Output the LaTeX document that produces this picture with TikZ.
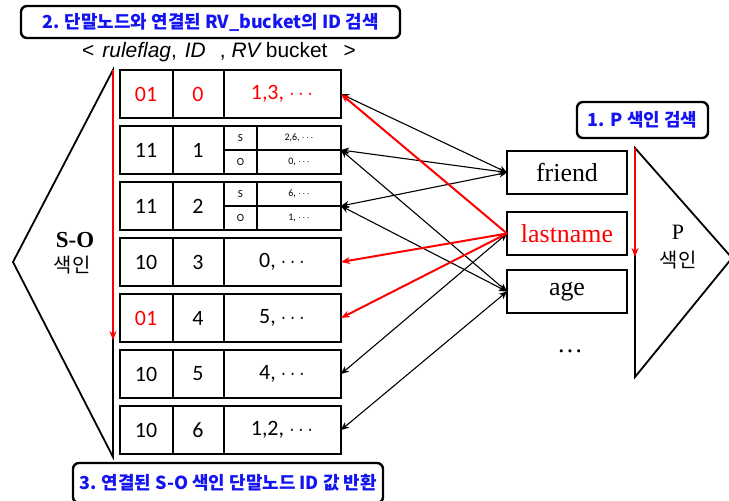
\documentclass[tikz,border=0pt]{standalone}
\usepackage{fontspec}
\setmainfont{Liberation Serif}
\newfontfamily\kr{Noto Sans CJK KR}
\newfontfamily\numf{Carlito}
\newfontfamily\arialf{Liberation Sans}
\usetikzlibrary{arrows.meta}
\definecolor{lblblue}{RGB}{20,20,240}
\definecolor{myred}{RGB}{255,0,0}
\newcommand{\dts}{$\cdots$}
\begin{document}
\begin{tikzpicture}[x=1bp,y=-1bp,
 rowbox/.style={draw,line width=1.6bp,minimum width=221bp,minimum height=48bp,inner sep=0pt,outer sep=0pt},
 pbox/.style={draw,line width=1.8bp,minimum width=120bp,minimum height=43bp,inner sep=0pt,outer sep=0pt,font=\fontsize{26}{28}\selectfont},
 lblbox/.style={draw,line width=2.4bp,rounded corners=6bp,inner sep=0pt,text=lblblue,font=\kr\bfseries\fontsize{18}{20}\selectfont},
 num/.style={font=\numf\fontsize{22}{24}\selectfont},
 smf/.style={font=\numf\fontsize{11}{12}\selectfont},
 smv/.style={font=\numf\fontsize{10}{11}\selectfont},
 bar/.style={line width=1.4bp},
 tri/.style={line width=1.8bp},
 link/.style={line width=1.1bp,{Stealth[length=8bp,width=7bp]}-{Stealth[length=8bp,width=7bp]}},
 redlink/.style={line width=2bp,myred,-{Stealth[length=9bp,width=7bp]}},
 redarrow/.style={line width=2bp,myred,-{Stealth[length=9bp,width=7bp]}}]
\useasboundingbox (0,0) rectangle (729,501);

% label boxes
\node[lblbox,minimum width=379bp,minimum height=32bp] (b2) at (210.5,22) {2. 단말노드와 연결된 RV\_bucket의 ID 검색};
\node[lblbox,minimum width=131bp,minimum height=36bp] (b1) at (642.5,120) {1. P 색인 검색};
\node[lblbox,minimum width=310bp,minimum height=40bp] (b3) at (228,483) {3. 연결된 S-O 색인 단말노드 ID 값 반환};

% header text
\node[anchor=base west,inner sep=0pt,font=\arialf\fontsize{21}{23}\selectfont] (hdr) at (82,58)
 {<\hspace{8bp}\textit{ruleflag},\hspace{8bp}\textit{ID}\hspace{14bp},\hspace{6bp}\textit{RV}\hspace{4bp}bucket\hspace{16bp}>};

% S-O triangle
\coordinate (sotop) at (113,70);
\coordinate (soapex) at (13,262);
\coordinate (sobot) at (113,457);
\coordinate (sored) at (113,340);
\draw[tri] (sotop) -- (soapex) -- (sobot) -- cycle;
\draw[redarrow] (sotop) -- (sored);
\node[font=\bfseries\fontsize{23}{25}\selectfont,inner sep=0pt] (so1) at (75,240) {S-O};
\node[font=\kr\fontsize{20}{22}\selectfont,inner sep=0pt] (so2) at (72,265) {색인};

% table rows
\foreach \i in {0,...,6}{
  \pgfmathsetmacro{\yy}{94+56*\i}
  \node[rowbox] (r\i) at (230.5,\yy) {};
  \draw[bar] ([xshift=53bp]r\i.north west) -- ([xshift=53bp]r\i.south west);
  \draw[bar] ([xshift=104bp]r\i.north west) -- ([xshift=104bp]r\i.south west);
}
% row contents
\node[num,text=myred] (c00) at ([xshift=26bp]r0.west) {01};
\node[num,text=myred] (c01) at ([xshift=78bp]r0.west) {0};
\node[num,text=myred] (c02) at ([xshift=162bp]r0.west) {1,3, \dts};

\node[num] (c10) at ([xshift=26bp]r1.west) {11};
\node[num] (c11) at ([xshift=78bp]r1.west) {1};
\node[num] (c20) at ([xshift=26bp]r2.west) {11};
\node[num] (c21) at ([xshift=78bp]r2.west) {2};
\foreach \i/\sv/\ov in {1/{2,6, \dts}/{0, \dts},2/{6, \dts}/{1, \dts}}{
  \draw[bar] ([xshift=137bp]r\i.north west) -- ([xshift=137bp]r\i.south west);
  \draw[bar] ([xshift=104bp]r\i.west) -- (r\i.east);
  \node[smf] (s\i) at ([xshift=120.5bp,yshift=12bp]r\i.west) {S};
  \node[smf] (o\i) at ([xshift=120.5bp,yshift=-12bp]r\i.west) {O};
  \node[smv] (sv\i) at ([xshift=179bp,yshift=12bp]r\i.west) {\sv};
  \node[smv] (ov\i) at ([xshift=179bp,yshift=-12bp]r\i.west) {\ov};
}
\node[num] (c30) at ([xshift=26bp]r3.west) {10};
\node[num] (c31) at ([xshift=78bp]r3.west) {3};
\node[num] (c32) at ([xshift=162bp]r3.west) {0, \dts};
\node[num,text=myred] (c40) at ([xshift=26bp]r4.west) {01};
\node[num] (c41) at ([xshift=78bp]r4.west) {4};
\node[num] (c42) at ([xshift=162bp]r4.west) {5, \dts};
\node[num] (c50) at ([xshift=26bp]r5.west) {10};
\node[num] (c51) at ([xshift=78bp]r5.west) {5};
\node[num] (c52) at ([xshift=162bp]r5.west) {4, \dts};
\node[num] (c60) at ([xshift=26bp]r6.west) {10};
\node[num] (c61) at ([xshift=78bp]r6.west) {6};
\node[num] (c62) at ([xshift=162bp]r6.west) {1,2, \dts};

% predicate boxes
\node[pbox] (fr) at (567,172.5) {friend};
\node[pbox,text=myred] (ln) at (567,233.5) {lastname};
\node[pbox] (ag) at (567,291.5) {age};
\node[font=\fontsize{26}{28}\selectfont,inner sep=0pt] (more) at (570,351) {…};

% P triangle
\coordinate (ptop) at (635,148);
\coordinate (papex) at (732,258);
\coordinate (pbot) at (635,377);
\coordinate (pred) at (635,257);
\draw[tri] (ptop) -- (papex) -- (pbot) -- cycle;
\draw[redarrow] (ptop) -- (pred);
\node[font=\fontsize{22}{24}\selectfont,inner sep=0pt] (p1) at (678,232) {P};
\node[font=\kr\fontsize{20}{22}\selectfont,inner sep=0pt] (p2) at (678,260) {색인};

% links
\draw[link] (fr.west) -- (r0.east);
\draw[link] (fr.west) -- (r1.east);
\draw[link] (fr.west) -- (r2.east);
\draw[link] (ag.west) -- (r1.east);
\draw[link] (ag.west) -- (r2.east);
\draw[link] (ln.west) -- (r5.east);
\draw[link] (ag.west) -- (r6.east);
\draw[redlink] (ln.west) -- (r0.east);
\draw[redlink] (ln.west) -- (r3.east);
\draw[redlink] (ln.west) -- (r4.east);
\end{tikzpicture}
\end{document}
